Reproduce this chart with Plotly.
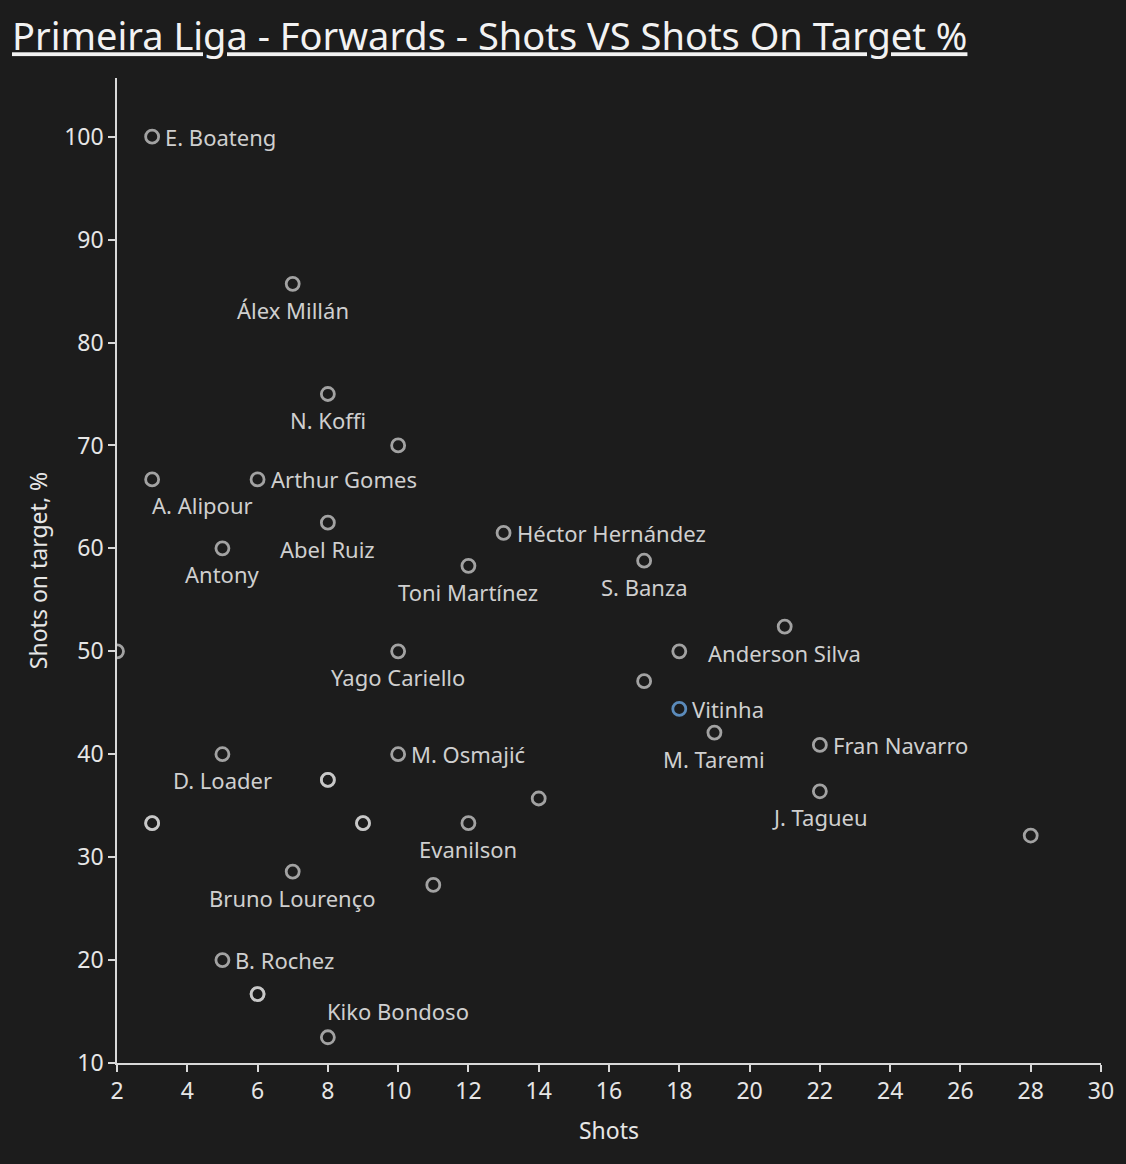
import plotly.graph_objects as go

# labelled forwards
names = ["E. Boateng", "Álex Millán", "N. Koffi", "A. Alipour", "Arthur Gomes",
         "Abel Ruiz", "Antony", "Héctor Hernández", "Toni Martínez", "S. Banza",
         "Anderson Silva", "Yago Cariello", "Vitinha", "M. Taremi", "Fran Navarro",
         "J. Tagueu", "D. Loader", "M. Osmajić", "Evanilson", "Bruno Lourenço",
         "B. Rochez", "Kiko Bondoso"]
shots = [3, 7, 8, 3, 6, 8, 5, 13, 12, 17, 21, 10, 18, 19, 22, 22, 5, 10, 12, 7, 5, 8]
on_target_pct = [100, 85.7, 75, 66.7, 66.7, 62.5, 60, 61.5, 58.3, 58.8, 52.4, 50,
                 44.4, 42.1, 40.9, 36.4, 40, 40, 33.3, 28.6, 20, 12.5]

# unlabelled forwards (repeated values are players sitting on the same spot)
other_shots = [10, 2, 18, 17, 28, 8, 8, 3, 3, 9, 9, 14, 11, 6, 6]
other_pct = [70, 50, 50, 47.1, 32.1, 37.5, 37.5, 33.3, 33.3, 33.3, 33.3, 35.7, 27.3, 16.7, 16.7]

x_ticks = list(range(2, 31, 2))
y_ticks = list(range(10, 101, 10))

highlight = "Vitinha"

# where each name sits relative to its circle
right_side = {"E. Boateng", "Arthur Gomes", "Héctor Hernández", "Vitinha",
              "Fran Navarro", "M. Osmajić", "B. Rochez"}
above_right = {"Kiko Bondoso"}
below_right = {"A. Alipour"}

BG = "#1c1c1c"
GREY = "rgba(215,215,215,0.72)"
BLUE = "#5b8bbb"
FONT = "Noto Sans"

fig = go.Figure()

fig.add_trace(go.Scatter(
    x=other_shots, y=other_pct, mode="markers",
    marker=dict(symbol="circle-open", size=13, color=GREY, line=dict(width=2.8)),
    hoverinfo="x+y", showlegend=False))

fig.add_trace(go.Scatter(
    x=shots, y=on_target_pct, mode="markers", text=names,
    marker=dict(symbol="circle-open", size=13,
                color=[BLUE if n == highlight else GREY for n in names],
                line=dict(width=2.8)),
    hovertemplate="%{text}<br>Shots: %{x}<br>On target: %{y}%<extra></extra>",
    showlegend=False))

for n, sx, sy in zip(names, shots, on_target_pct):
    if n in right_side:
        kw = dict(xanchor="left", yanchor="middle", xshift=11, yshift=0)
    elif n in above_right:
        kw = dict(xanchor="left", yanchor="middle", xshift=-3, yshift=26)
    elif n in below_right:
        kw = dict(xanchor="left", yanchor="middle", xshift=-2, yshift=-26)
    else:
        kw = dict(xanchor="center", yanchor="middle", xshift=0, yshift=-26)
    fig.add_annotation(x=sx, y=sy, text=n, showarrow=False,
                       font=dict(family=FONT, size=22, color="#cfcfcf"), **kw)

fig.update_layout(
    width=1126, height=1164,
    paper_bgcolor=BG, plot_bgcolor=BG,
    margin=dict(l=117, r=21, t=78, b=101),
    font=dict(family=FONT, size=23, color="#e6e6e6"),
    title=dict(text="<u>Primeira Liga - Forwards - Shots VS Shots On Target %</u>",
               font=dict(family=FONT, size=38, color="#f2f2f2"),
               x=12 / 1126, xanchor="left", xref="container",
               y=1 - 37 / 1164, yanchor="middle", yref="container"),
)

fig.update_xaxes(
    range=[2, 30], tickvals=x_ticks, showgrid=False, zeroline=False,
    showline=True, linecolor="#d8d8d8", linewidth=1.5,
    ticks="outside", ticklen=7, tickwidth=1.5, tickcolor="#d8d8d8",
    tickfont=dict(size=23, color="#e6e6e6"),
    title=dict(text="Shots", font=dict(size=23, color="#e6e6e6"), standoff=18))

fig.update_yaxes(
    range=[10, 105.7], tickvals=y_ticks, showgrid=False, zeroline=False,
    showline=True, linecolor="#d8d8d8", linewidth=1.5,
    ticks="outside", ticklen=7, tickwidth=1.5, tickcolor="#d8d8d8",
    tickfont=dict(size=23, color="#e6e6e6"),
    title=dict(text="Shots on target, %", font=dict(size=23, color="#e6e6e6"), standoff=10))

fig.write_html("out.html", config={"displayModeBar": False},
               post_script="document.body.style.margin='0';"
                           "document.body.style.background='#1c1c1c';")
